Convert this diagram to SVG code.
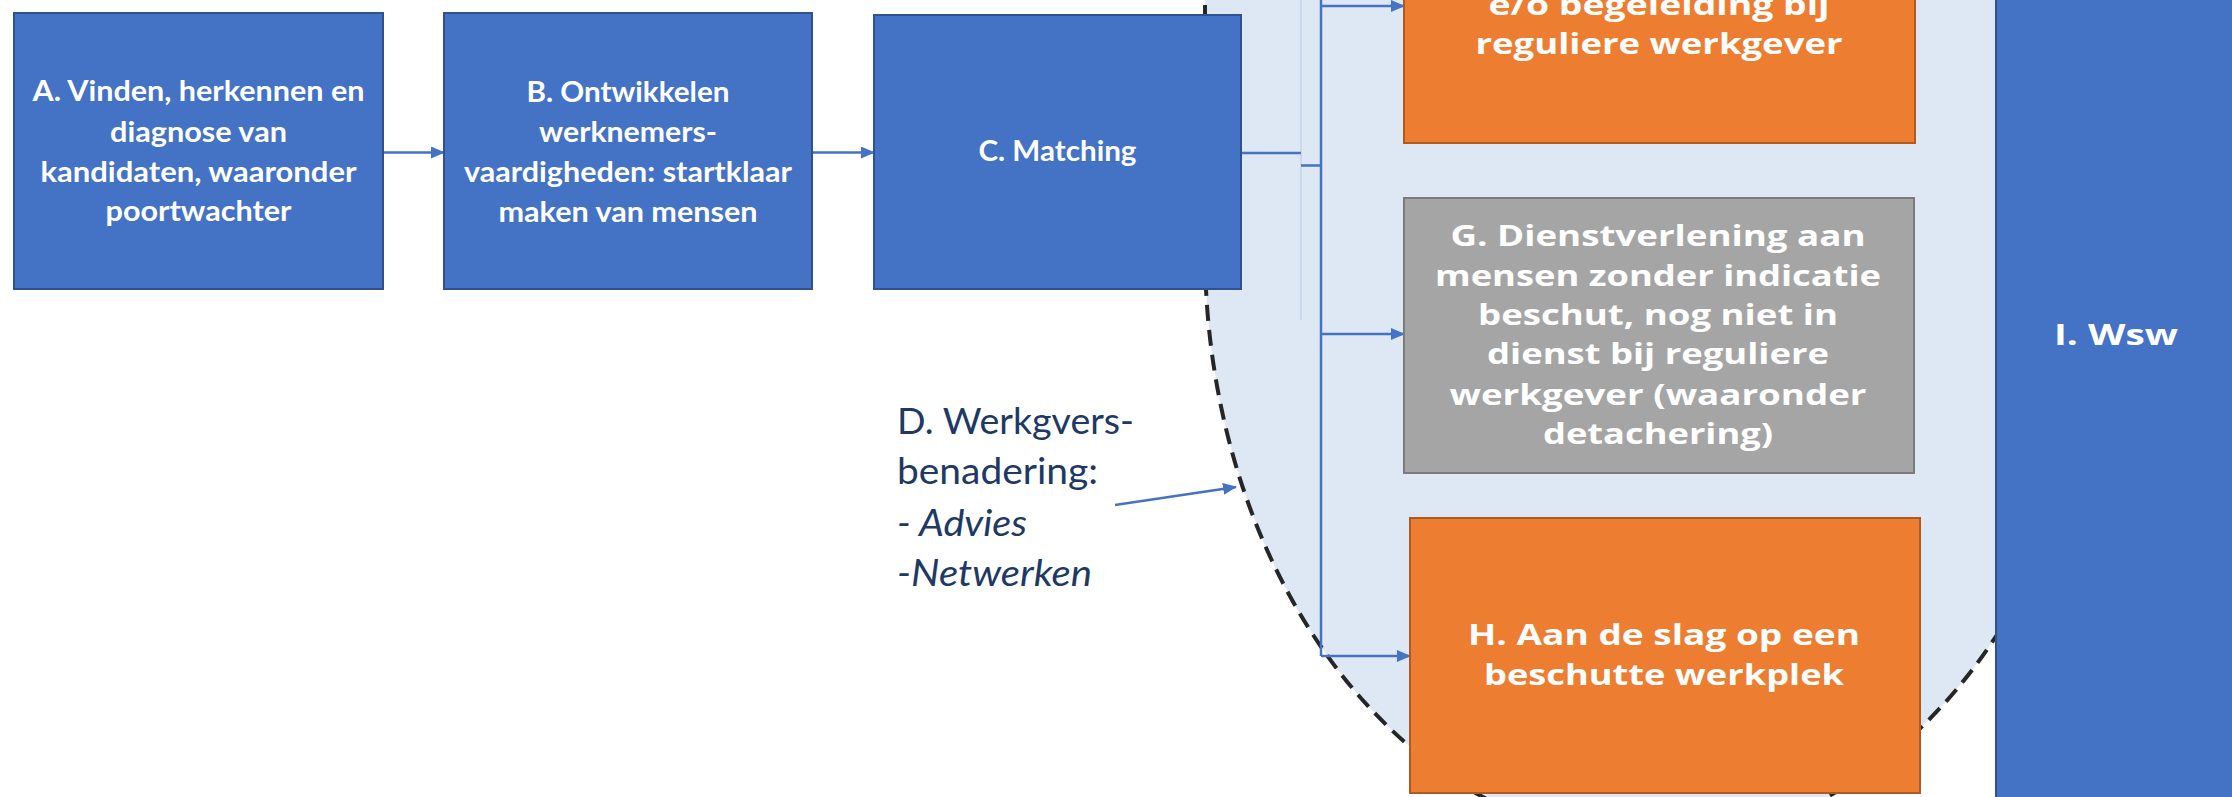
<svg xmlns="http://www.w3.org/2000/svg" width="2232" height="797" viewBox="0 0 2232 797">
<defs>
<marker id="arr" markerUnits="userSpaceOnUse" markerWidth="14" markerHeight="12" refX="13" refY="6" orient="auto"><path d="M0,0 L14,6 L0,12 Z" fill="#4472c4"/></marker>
</defs>
<style>
.blue{fill:#4472c4;stroke:#2f528f;stroke-width:2}
.orange{fill:#ed7d31;stroke:#ae5a21;stroke-width:2}
.gray{fill:#a5a5a5;stroke:#7b7b7b;stroke-width:2}
.t1{font-family:Lato,"Liberation Sans",sans-serif;font-weight:700;font-size:28px;fill:#fff;text-anchor:middle}
.t2{font-family:"Open Sans","Liberation Sans",sans-serif;font-weight:700;font-size:28px;fill:#fff;text-anchor:middle}
.d{font-family:Lato,"Liberation Sans",sans-serif;font-size:37px;fill:#203864}
.conn{fill:none;stroke:#4472c4;stroke-width:2.5}
</style>
<rect width="2232" height="797" fill="#fff"/>
<g id="zone">
<path d="M1205,-20 L1205,250 A450,592 0 0 0 2105,250 L2105,-20 Z" fill="#dee8f4" stroke="#262626" stroke-width="4" stroke-dasharray="16 9"/>
</g>
<g id="connectors">
<line x1="1301" y1="0" x2="1301" y2="320" stroke="#c5d5ee" stroke-width="1.5"/>
<path class="conn" d="M383,152.5 H444" marker-end="url(#arr)"/>
<path class="conn" d="M812,152.5 H874" marker-end="url(#arr)"/>
<path class="conn" d="M1241,153 H1301"/>
<path class="conn" d="M1301,165.5 H1321"/>
<path class="conn" d="M1321,-10 V656" stroke-width="3"/>
<path class="conn" d="M1321,6 H1404" marker-end="url(#arr)"/>
<path class="conn" d="M1321,334 H1404" marker-end="url(#arr)"/>
<path class="conn" d="M1321,656 H1410" marker-end="url(#arr)"/>
<path class="conn" d="M1115,505 L1236,487" marker-end="url(#arr)"/>
</g>
<g id="nodeA">
<rect class="blue" x="14" y="13" width="369" height="276"/>
<text class="t1" x="198.5" y="101" textLength="332" lengthAdjust="spacingAndGlyphs">A. Vinden, herkennen en</text>
<text class="t1" x="198.5" y="141.5" textLength="177" lengthAdjust="spacingAndGlyphs">diagnose van</text>
<text class="t1" x="198.5" y="181.5" textLength="316" lengthAdjust="spacingAndGlyphs">kandidaten, waaronder</text>
<text class="t1" x="198.5" y="221" textLength="186" lengthAdjust="spacingAndGlyphs">poortwachter</text>
</g>
<g id="nodeB">
<rect class="blue" x="444" y="13" width="368" height="276"/>
<text class="t1" x="628" y="101.5" textLength="203" lengthAdjust="spacingAndGlyphs">B. Ontwikkelen</text>
<text class="t1" x="628" y="142" textLength="178" lengthAdjust="spacingAndGlyphs">werknemers-</text>
<text class="t1" x="628" y="181.5" textLength="328" lengthAdjust="spacingAndGlyphs">vaardigheden: startklaar</text>
<text class="t1" x="628" y="221.5" textLength="259" lengthAdjust="spacingAndGlyphs">maken van mensen</text>
</g>
<g id="nodeC">
<rect class="blue" x="874" y="15" width="367" height="274"/>
<text class="t1" x="1057.5" y="161" textLength="158" lengthAdjust="spacingAndGlyphs">C. Matching</text>
</g>
<g id="nodeD">
<text class="d" x="897" y="434" textLength="237" lengthAdjust="spacingAndGlyphs">D. Werkgvers-</text>
<text class="d" x="897" y="484" textLength="201" lengthAdjust="spacingAndGlyphs">benadering:</text>
<text class="d" x="897" y="536" font-style="italic" textLength="130" lengthAdjust="spacingAndGlyphs">- Advies</text>
<text class="d" x="897" y="586" font-style="italic" textLength="195" lengthAdjust="spacingAndGlyphs">-Netwerken</text>
</g>
<g id="nodeE">
<rect class="orange" x="1404" y="-20" width="511" height="163"/>
<text class="t2" x="1659" y="15" textLength="341" lengthAdjust="spacingAndGlyphs">e/o begeleiding bij</text>
<text class="t2" x="1659" y="53.5" textLength="367" lengthAdjust="spacingAndGlyphs">reguliere werkgever</text>
</g>
<g id="nodeG">
<rect class="gray" x="1404" y="198" width="510" height="275"/>
<text class="t2" x="1658" y="245.5" textLength="415" lengthAdjust="spacingAndGlyphs">G. Dienstverlening aan</text>
<text class="t2" x="1658" y="285.5" textLength="446" lengthAdjust="spacingAndGlyphs">mensen zonder indicatie</text>
<text class="t2" x="1658" y="324.5" textLength="360" lengthAdjust="spacingAndGlyphs">beschut, nog niet in</text>
<text class="t2" x="1658" y="364" textLength="342" lengthAdjust="spacingAndGlyphs">dienst bij reguliere</text>
<text class="t2" x="1658" y="404.5" textLength="417" lengthAdjust="spacingAndGlyphs">werkgever (waaronder</text>
<text class="t2" x="1658" y="444" textLength="230" lengthAdjust="spacingAndGlyphs">detachering)</text>
</g>
<g id="nodeH">
<rect class="orange" x="1410" y="518" width="510" height="275"/>
<text class="t2" x="1664" y="645" textLength="392" lengthAdjust="spacingAndGlyphs">H. Aan de slag op een</text>
<text class="t2" x="1664" y="685" textLength="360" lengthAdjust="spacingAndGlyphs">beschutte werkplek</text>
</g>
<g id="nodeI">
<rect class="blue" x="1996" y="-10" width="250" height="820"/>
<text class="t2" x="2116" y="345" font-size="31" textLength="124" lengthAdjust="spacingAndGlyphs">I. Wsw</text>
</g>
</svg>
